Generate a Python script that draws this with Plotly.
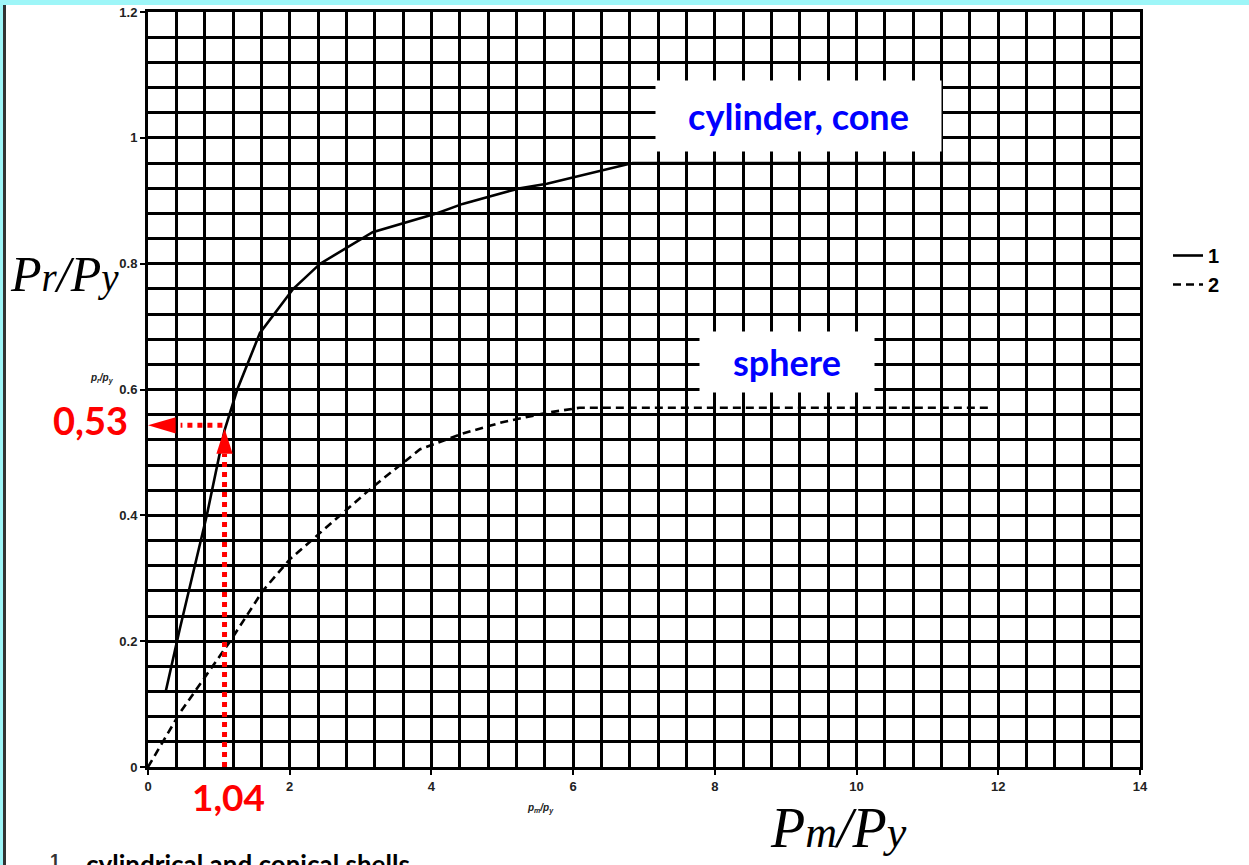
import plotly.graph_objects as go

# ---- data ----
cyl_x = [0.25, 0.45, 0.83, 1.08, 1.26, 1.58, 2.05, 2.43, 3.17, 4.08, 4.44, 5.25, 5.63, 6.84, 11.9]
cyl_y = [0.12, 0.22, 0.40, 0.535, 0.60, 0.69, 0.76, 0.80, 0.85, 0.88, 0.895, 0.92, 0.927, 0.96, 0.96]
sph_x = [0.0, 0.45, 1.16, 1.62, 2.0, 2.47, 3.17, 3.84, 4.44, 5.0, 5.63, 6.09, 11.9]
sph_y = [0.0, 0.086, 0.20, 0.28, 0.33, 0.376, 0.445, 0.505, 0.53, 0.548, 0.563, 0.571, 0.571]
legend_names = ["1", "2"]
x_ticks = [0, 2, 4, 6, 8, 10, 12, 14]
x_tick_text = ["0", "2", "4", "6", "8", "10", "12", "14"]
y_ticks = [0, 0.2, 0.4, 0.6, 0.8, 1.0, 1.2]
y_tick_text = ["0", "0.2", "0.4", "0.6", "0.8", "1", "1.2"]
# where the red reading arrows are drawn, and their labels
arrow_x = 1.08
arrow_y = 0.543
read_x_label = "1,04"
read_y_label = "0,53"

W, H = 1249, 865
L, R, T, B = 148, 109, 12, 98
PW, PH = W - L - R, H - T - B


def px(xp):
    return (xp - L) / PW


def py(yp):
    return (H - B - yp) / PH


fig = go.Figure()
fig.add_trace(go.Scatter(x=cyl_x, y=cyl_y, mode="lines", name=legend_names[0],
                         line=dict(color="black", width=2.6)))
fig.add_trace(go.Scatter(x=sph_x, y=sph_y, mode="lines", name=legend_names[1],
                         line=dict(color="black", width=2.6, dash="8px,5px")))

RED = "#FF0000"
# arrowhead sizes in data units
hx_len, hx_half = 0.39, 0.013   # horizontal head: length (x), half height (y)
vy_len, vx_half = 0.045, 0.115  # vertical head: length (y), half width (x)

shapes = [
    # dotted reading lines
    dict(type="line", x0=arrow_x, x1=arrow_x, y0=0, y1=arrow_y - vy_len,
         line=dict(color=RED, width=5, dash="5px,5px")),
    dict(type="line", x0=arrow_x - 0.03, x1=hx_len + 0.07, y0=arrow_y, y1=arrow_y,
         line=dict(color=RED, width=5, dash="5px,5px")),
    # arrow heads
    dict(type="path", fillcolor=RED, line=dict(width=0),
         path=f"M 0,{arrow_y} L {hx_len},{arrow_y + hx_half} L {hx_len},{arrow_y - hx_half} Z"),
    dict(type="path", fillcolor=RED, line=dict(width=0),
         path=f"M {arrow_x},{arrow_y - 0.005} L {arrow_x - vx_half},{arrow_y - vy_len} "
              f"L {arrow_x + vx_half},{arrow_y - vy_len} Z"),
    # slide frame strips
    dict(type="rect", xref="paper", yref="paper", x0=px(0), x1=px(W), y0=py(0), y1=py(5),
         fillcolor="#9EF6F8", line=dict(width=0), layer="below"),
    dict(type="rect", xref="paper", yref="paper", x0=px(0), x1=px(3), y0=py(0), y1=py(H),
         fillcolor="#9EF6F8", line=dict(width=0), layer="below"),
    dict(type="rect", xref="paper", yref="paper", x0=px(3), x1=px(6), y0=py(5), y1=py(H),
         fillcolor="#333", line=dict(width=0), layer="below"),
]

axis_common = dict(
    showgrid=True, gridcolor="black", gridwidth=2.8,
    showline=True, linecolor="black", linewidth=3, mirror=True,
    ticks="outside", ticklen=5, tickwidth=2, tickcolor="black",
    zeroline=False, automargin=False,
    tickfont=dict(family="Liberation Sans", size=13, color="#222", weight="bold"),
)
fig.update_xaxes(range=[0, 14], tickvals=x_ticks, ticktext=x_tick_text,
                 minor=dict(dtick=0.4, tick0=0, showgrid=True, gridcolor="black", gridwidth=2.8),
                 **axis_common)
fig.update_yaxes(range=[0, 1.2], tickvals=y_ticks, ticktext=y_tick_text,
                 minor=dict(dtick=0.04, tick0=0, showgrid=True, gridcolor="black", gridwidth=2.8),
                 **axis_common)


def note(xp, yp, text, font, **kw):
    d = dict(x=px(xp), y=py(yp), xref="paper", yref="paper", text=text,
             showarrow=False, xanchor="center", yanchor="middle", font=font)
    d.update(kw)
    return d


ann = [
    note(798, 116, "<b>cylinder, cone</b>", dict(family="Lato", size=36, color="#0000FF"),
         bgcolor="white", width=283, height=68),
    note(787, 362, "<b>sphere</b>", dict(family="Lato", size=36, color="#0000FF"),
         bgcolor="white", width=172, height=58),
    note(90, 420, "<b>" + read_y_label + "</b>", dict(family="Lato", size=38, color=RED)),
    note(228, 796, "<b>" + read_x_label + "</b>", dict(family="Lato", size=37, color=RED)),
    note(64, 274, "<i>P<span style='font-size:39px'>r</span>/P<span style='font-size:39px'>y</span></i>",
         dict(family="Liberation Serif", size=50, color="black")),
    note(102, 378, "<i><b>p<sub>r</sub>/p<sub>y</sub></b></i>",
         dict(family="Liberation Sans", size=10, color="#222")),
    note(540, 808, "<i><b>p<sub>m</sub>/p<sub>y</sub></b></i>",
         dict(family="Liberation Sans", size=10, color="#222")),
    note(838, 828, "<i>P<span style='font-size:44px'>m</span>/P<span style='font-size:44px'>y</span></i>",
         dict(family="Liberation Serif", size=56, color="black")),
    note(48, 849, "<b>1</b>", dict(family="Liberation Sans", size=18, color="#333"),
         xanchor="left", yanchor="top"),
    note(84, 846, "<b>cylindrical and conical shells</b>", dict(family="Lato", size=26, color="black"),
         xanchor="left", yanchor="top"),
]

fig.update_layout(
    width=W, height=H,
    margin=dict(l=L, r=R, t=T, b=B, autoexpand=False),
    paper_bgcolor="white", plot_bgcolor="white",
    annotations=ann,
    shapes=shapes,
    legend=dict(x=px(1168), y=py(236), xanchor="left", yanchor="top",
                bgcolor="rgba(0,0,0,0)",
                font=dict(family="Liberation Sans", size=20, color="black", weight="bold"),
                tracegroupgap=0, itemwidth=30),
)

fig.write_html("out.html", config={"displayModeBar": False},
               post_script="document.body.style.margin='0px';document.body.style.overflow='hidden';")
